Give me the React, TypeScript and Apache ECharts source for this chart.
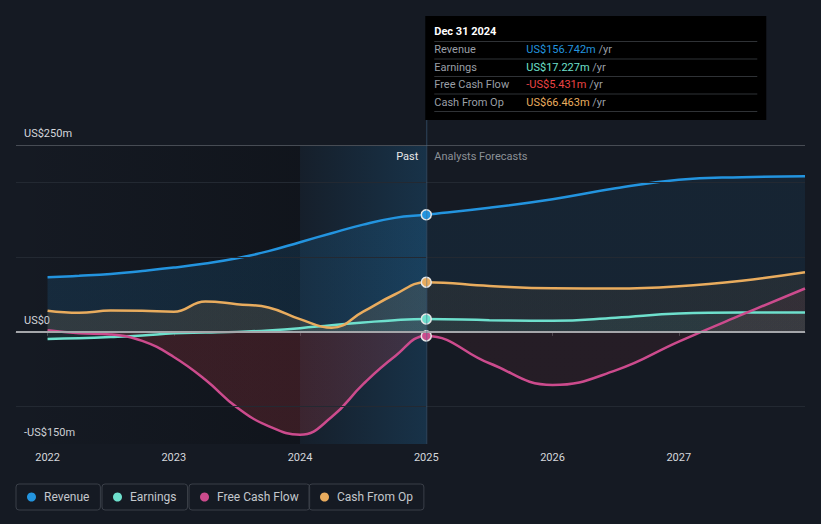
import { useEffect, useRef } from 'react';
import * as echarts from 'echarts';

const periods = [2022, 2022.25, 2022.5, 2022.75, 2023, 2023.25, 2023.5, 2023.75, 2024, 2024.25, 2024.5, 2024.75, 2025, 2025.5, 2026, 2026.5, 2027, 2027.5, 2028];
const revenue = [73, 75, 77.5, 81.5, 86, 91.5, 98.5, 108, 120, 132, 143.5, 152.5, 156.742, 166, 177.5, 192, 203.5, 207, 208.3];
const earnings = [-9.4, -8.5, -7, -5, -2, -1, 0, 2, 5, 9, 12.5, 15.7, 17.227, 15.7, 14.8, 19, 24.6, 26, 26];
const freeCashFlow = [2.3, -1.8, -3.5, -12, -33.6, -64, -101, -126, -137.5, -114, -70, -33, -5.431, -42, -71, -51.5, -13, 23, 58];
const cashFromOp = [28.2, 25.5, 28.5, 28.2, 27, 40.7, 37, 32.7, 17, 5.5, 27, 50, 66.463, 61.5, 58.2, 58, 61, 68.5, 79.7];

const xTicks = [2022, 2023, 2024, 2025, 2026, 2027];
const yLabelValues = [-150, 0, 250];
const gridValues = [200, 100, -100];
const axisMin = 2021.75;
const axisMax = 2028;
const pastStart = 2024;
const presentYear = 2025;
const presentLabel = 'Dec 31 2024';

const FONT = 'Roboto, "Noto Sans", sans-serif';
const FS = 11;
const BG = '#151a23';

const seriesDefs = [
  { name: 'Revenue', values: revenue, color: '#2394df', fill: [35, 148, 223], past: 0.2, future: 0.12, tip: '#2394df' },
  { name: 'Earnings', values: earnings, color: '#6ee0cd', fill: [110, 224, 205], past: 0.12, future: 0.1, tip: '#6ee0cd' },
  { name: 'Free Cash Flow', values: freeCashFlow, color: '#cc4b8d', fill: [228, 64, 72], past: 0.26, future: 0.11, tip: '#ec4444' },
  { name: 'Cash From Op', values: cashFromOp, color: '#e9ac5e', fill: [232, 169, 90], past: 0.18, future: 0.1, tip: '#e9ac5e' },
];
const legendLefts = [16, 102, 189, 309];

const fmtMoney = (v: number) => (v < 0 ? '-' : '') + 'US$' + Math.abs(v).toFixed(3) + 'm';
const fmtAxis = (v: number) => (v === 0 ? 'US$0' : (v < 0 ? '-' : '') + 'US$' + Math.abs(v) + 'm');

export default function App() {
  const ref = useRef<HTMLDivElement>(null);
  useEffect(() => {
    if (!ref.current) return;
    const chart = echarts.init(ref.current, null, { renderer: 'svg' });
    const idx = periods.indexOf(presentYear);
    const frac = (presentYear - periods[0]) / (periods[periods.length - 1] - periods[0]);
    const rgba = (c: number[], a: number) => `rgba(${c[0]},${c[1]},${c[2]},${a})`;

    const series: any[] = seriesDefs.map((s) => ({
      type: 'line',
      name: s.name,
      z: 3,
      smooth: 0.45,
      showSymbol: true,
      showAllSymbol: true,
      symbol: 'none',
      data: periods.map((p, i) =>
        p === presentYear
          ? { value: [p, s.values[i]], symbol: 'circle', symbolSize: 10 }
          : [p, s.values[i]]
      ),
      lineStyle: { color: s.color, width: 2.5 },
      itemStyle: { color: s.color, borderColor: '#e6e6e6', borderWidth: 1.5 },
      areaStyle: {
        color: new echarts.graphic.LinearGradient(0, 0, 1, 0, [
          { offset: 0, color: rgba(s.fill, s.past) },
          { offset: frac, color: rgba(s.fill, s.past) },
          { offset: frac, color: rgba(s.fill, s.future) },
          { offset: 1, color: rgba(s.fill, s.future) },
        ]),
      },
      emphasis: { disabled: true },
      silent: true,
    }));

    series.unshift({
      type: 'line',
      name: 'bg',
      z: 1,
      silent: true,
      data: [],
      markArea: {
        silent: true,
        data: [
          [
            {
              xAxis: axisMin,
              itemStyle: {
                color: new echarts.graphic.LinearGradient(0, 0, 1, 0, [
                  { offset: 0, color: 'rgba(5,7,10,0)' },
                  { offset: 1, color: 'rgba(5,7,10,0.28)' },
                ]),
              },
            },
            { xAxis: pastStart },
          ],
          [
            {
              xAxis: pastStart,
              itemStyle: {
                color: new echarts.graphic.LinearGradient(0, 0, 1, 0, [
                  { offset: 0, color: 'rgba(35,148,223,0.04)' },
                  { offset: 1, color: 'rgba(35,148,223,0.2)' },
                ]),
              },
            },
            { xAxis: presentYear },
          ],
        ],
      },
      markLine: {
        silent: true,
        symbol: 'none',
        label: { show: false },
        data: [
          ...gridValues.map((v) => ({ yAxis: v, lineStyle: { color: '#232932', width: 1, type: 'solid' } })),
          { yAxis: 250, lineStyle: { color: '#474c54', width: 1, type: 'solid' } },
          { yAxis: 0, lineStyle: { color: '#a4a6aa', width: 2, type: 'solid' } },
        ],
      },
    });

    const option: any = {
      animation: false,
      backgroundColor: BG,
      textStyle: { fontFamily: FONT },
      grid: { left: 16, right: 16, top: 145, bottom: 80, containLabel: false, outerBoundsMode: 'none' },
      xAxis: {
        type: 'value',
        min: axisMin,
        max: axisMax,
        axisLine: { show: true, lineStyle: { color: '#454a52', width: 1 } },
        axisTick: { show: true, customValues: xTicks, length: 4, lineStyle: { color: '#454a52' } },
        axisLabel: { customValues: xTicks, formatter: (v: number) => String(Math.round(v)), color: '#d4d7dc', fontSize: FS, margin: 8, fontFamily: FONT },
        splitLine: { show: false },
      },
      yAxis: {
        type: 'value',
        min: -150,
        max: 250,
        interval: 50,
        axisLine: { show: false },
        axisTick: { show: false },
        splitLine: { show: false },
        axisLabel: {
          inside: true,
          customValues: yLabelValues,
          formatter: fmtAxis,
          color: '#d4d7dc',
          fontSize: FS,
          fontFamily: FONT,
          margin: 8,
          align: 'left',
          verticalAlign: 'bottom',
          padding: [0, 0, 6, 0],
        },
      },
      legend: seriesDefs.map((s, i) => ({
        data: [s.name],
        left: legendLefts[i],
        top: 484,
        icon: 'circle',
        itemWidth: 9,
        itemHeight: 9,
        padding: [7, 11, 7, 11],
        borderColor: '#3a3f48',
        borderWidth: 1,
        borderRadius: 3,
        selectedMode: false,
        itemStyle: { borderWidth: 0 },
        textStyle: { color: '#c3c7cc', fontSize: FS + 1, fontFamily: FONT, padding: [0, 0, 0, 3] },
      })),
      series,
    };
    chart.setOption(option);

    const px = chart.convertToPixel({ xAxisIndex: 0 }, presentYear) as number;
    const top = 145;
    const bottom = 444;
    const boxX = px - 1;
    const rows = seriesDefs.map((s) => ({ label: s.name, value: s.values[idx], color: s.tip }));
    const rowY = [49.5, 67, 84.5, 102];
    const sepY = [41, 58.5, 76, 93.5, 111];
    const graphic: any[] = [
      { type: 'line', shape: { x1: px + 0.5, y1: 119, x2: px + 0.5, y2: bottom }, style: { stroke: 'rgba(70,105,140,0.55)', lineWidth: 1 }, z: 5, silent: true },
      { type: 'rect', shape: { x: boxX, y: 16, width: 341, height: 104 }, style: { fill: '#000' }, z: 10, silent: true },
      { type: 'text', x: boxX + 9, y: 31, style: { text: presentLabel, fill: '#ffffff', fontSize: FS, fontWeight: 'bold', fontFamily: FONT, verticalAlign: 'middle' }, z: 11, silent: true },
      ...sepY.map((y) => ({ type: 'line', shape: { x1: boxX + 9, y1: y + 0.5, x2: boxX + 332, y2: y + 0.5 }, style: { stroke: '#2f3236', lineWidth: 1 }, z: 11, silent: true })),
      ...rows.map((r, i) => ({ type: 'text', x: boxX + 9, y: rowY[i], style: { text: r.label, fill: '#9a9fa6', fontSize: FS, fontFamily: FONT, verticalAlign: 'middle' }, z: 11, silent: true })),
      ...rows.map((r, i) => ({
        type: 'text',
        x: boxX + 101,
        y: rowY[i],
        style: {
          text: `{v|${fmtMoney(r.value)}} {u|/yr}`,
          fontSize: FS,
          fontFamily: FONT,
          verticalAlign: 'middle',
          rich: {
            v: { fill: r.color, color: r.color, fontSize: FS, fontFamily: FONT },
            u: { fill: '#9a9fa6', color: '#9a9fa6', fontSize: FS, fontFamily: FONT },
          },
        },
        z: 11,
        silent: true,
      })),
      { type: 'text', x: px - 8, y: top + 11, style: { text: 'Past', fill: '#e8e8e8', fontSize: FS, fontFamily: FONT, align: 'right', verticalAlign: 'middle' }, z: 6, silent: true },
      { type: 'text', x: px + 8, y: top + 11, style: { text: 'Analysts Forecasts', fill: '#8c9197', fontSize: FS, fontFamily: FONT, align: 'left', verticalAlign: 'middle' }, z: 6, silent: true },
    ];
    chart.setOption({ graphic });

    return () => chart.dispose();
  }, []);
  return <div ref={ref} style={{ position: 'fixed', left: 0, top: 0, width: 821, height: 524 }} />;
}
